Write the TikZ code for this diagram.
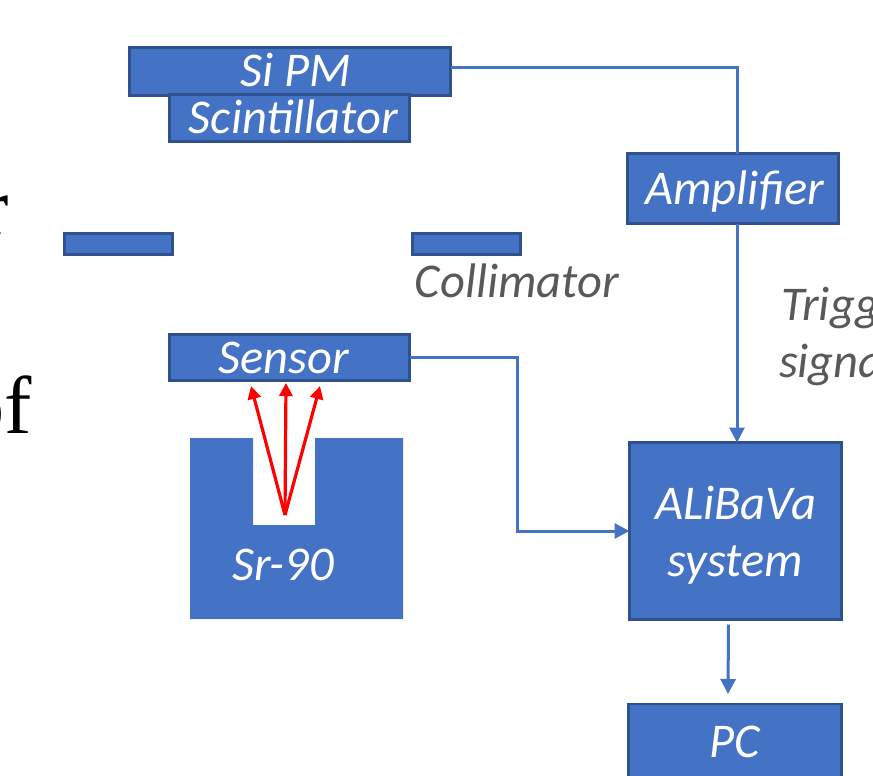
\documentclass[tikz,border=0pt]{standalone}
\usepackage{fontspec}
\setmainfont{Carlito}
\newfontfamily\serifface{Liberation Serif}
\usetikzlibrary{arrows.meta}
\definecolor{boxfill}{HTML}{4472C4}
\definecolor{boxedge}{HTML}{2F528F}
\definecolor{labelgray}{HTML}{595959}
\begin{document}
\begin{tikzpicture}[x=1pt,y=-1pt,
  every node/.style={inner sep=0pt, outer sep=0pt},
  bigfont/.style={font=\fontsize{48.5}{57}\selectfont\itshape},
  blk/.style={rectangle, fill=boxfill, draw=boxedge, line width=2.5pt,
    text=white, bigfont, text height=31pt, text depth=0pt},
  bar/.style={rectangle, fill=boxfill, draw=boxedge, line width=2.5pt},
  note/.style={text=labelgray, bigfont},
  wire/.style={draw=boxfill, line width=3pt},
  arr/.style={wire, -{Triangle[length=15pt,width=15pt]}},
  ray/.style={draw=red, line width=3.2pt, -{Triangle[length=13pt,width=13pt]}},
  cutoff/.style={font=\fontsize{82}{90}\selectfont\serifface, text=black}
]
\useasboundingbox (0,0) rectangle (873,776);
\clip (0,0) rectangle (873,776);

% text running in from the left edge
\node[cutoff, anchor=base east] (frag1) at (9,234) {r};
\node[cutoff, anchor=base east] (frag2) at (32,433) {of};

% trigger counter: SiPM on top of the scintillator
\node[blk, minimum width=321pt, minimum height=48pt] (sipm) at (290,71.5) {\hspace*{12pt}Si PM};
\node[blk, minimum width=240pt, minimum height=47pt] (scint) at (289.5,118) {\hspace*{8pt}Scintillator};

% collimator bars
\node[bar, minimum width=108pt, minimum height=21pt] (colL) at (118.5,244) {};
\node[bar, minimum width=108pt, minimum height=21pt] (colR) at (466.5,244) {};
\node[note, anchor=base] (collabel) at (517,297) {Collimator};

% sensor and source
\node[blk, minimum width=240pt, minimum height=46pt] (sensor) at (289.5,357.5) {Sensor\hspace*{12pt}};
\fill[boxfill] (190,438) -- (253,438) -- (253,525) -- (315,525) -- (315,438)
  -- (403,438) -- (403,619) -- (190,619) -- cycle;
\node[text=white, bigfont, anchor=base] (sr) at (283,580) {Sr-90};
\coordinate (src) at (285,515);
\coordinate (tipL) at (251,386);
\coordinate (tipM) at (286,383);
\coordinate (tipR) at (320,386);
\draw[ray] (src) -- (tipL);
\draw[ray] (src) -- (tipM);
\draw[ray] (src) -- (tipR);

% readout chain
\node[blk, minimum width=211pt, minimum height=70pt] (amp) at (733,188.5) {\hspace*{4pt}Amplifier};
\node[rectangle, fill=boxfill, draw=boxedge, line width=2.5pt, text=white, bigfont,
  align=center, minimum width=212pt, minimum height=177pt] (alibava) at (735.5,531)
  {\rule{0pt}{42pt}ALiBaVa\\system};
\node[blk, minimum width=213pt, minimum height=76pt] (pc) at (735,742) {PC};

\node[note, anchor=base west] (trig1) at (781,320) {Trigger};
\node[note, anchor=base west] (trig2) at (779,377) {signal};

% connections
\draw[wire] ([yshift=3.5pt]sipm.east) -| ([xshift=4pt]amp.north);
\draw[arr] ([xshift=4pt]amp.south) -- ([xshift=4pt]amp.south |- alibava.north);
\draw[arr] (sensor.east) -- ++(108,0) |- (alibava.west);
\draw[arr] ([xshift=-7pt,yshift=-5pt]alibava.south) -- ([xshift=-7pt,yshift=10pt]pc.north);
\end{tikzpicture}
\end{document}
